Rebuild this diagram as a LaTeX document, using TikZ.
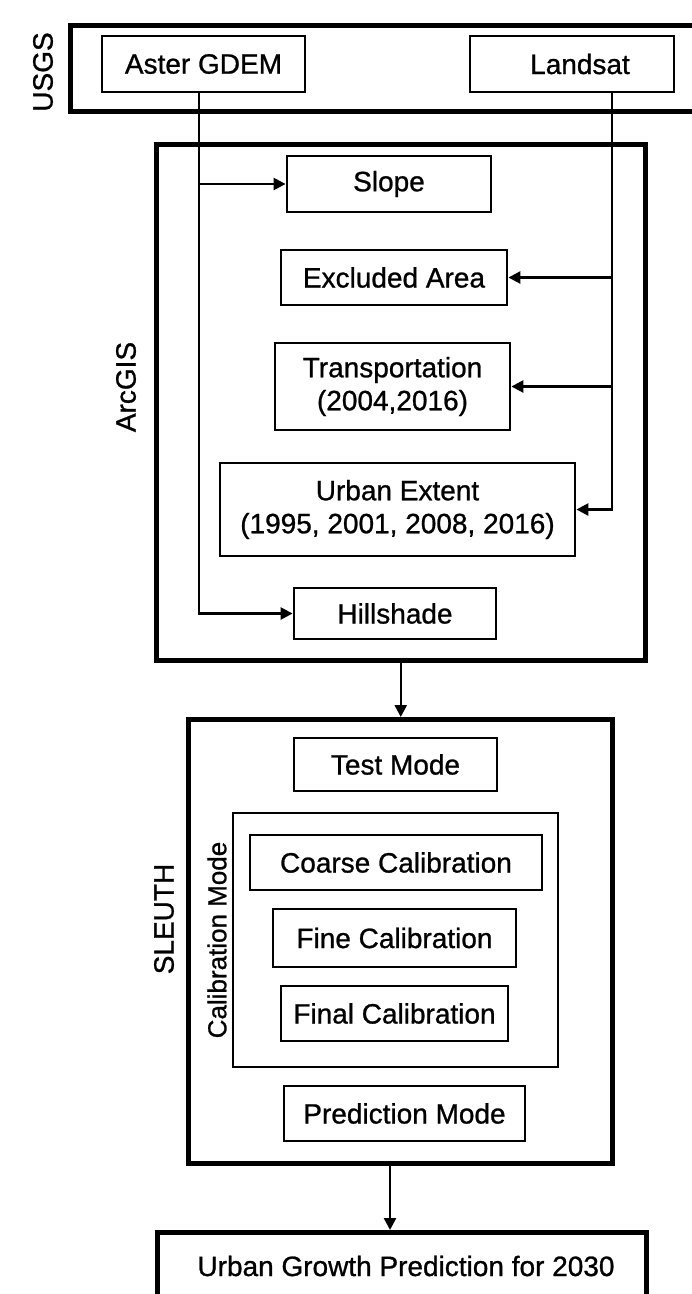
\documentclass[tikz,border=0pt]{standalone}
\usepackage{fontspec}
\setmainfont{Liberation Sans}
\newfontfamily\heavysans[FakeBold=0.9]{Liberation Sans}
\usetikzlibrary{arrows.meta,calc}
\begin{document}
\begin{tikzpicture}[x=1pt,y=-1pt,
  frame/.style={draw,line width=4.5pt,inner sep=0pt,anchor=north west},
  box/.style={draw,line width=2.8pt,inner sep=0pt,align=center,
    font=\heavysans\fontsize{28}{33}\selectfont},
  lbl/.style={rotate=90,inner sep=0pt,font=\heavysans\fontsize{28}{33}\selectfont},
  conn/.style={line width=2.5pt,-{Triangle[length=12pt,width=12pt]}}]
\useasboundingbox (0,0) rectangle (692,1294);
% frames
\node[frame,minimum width=660pt,minimum height=86pt] (usgs) at (68,23) {};
\node[frame,minimum width=489pt,minimum height=516pt] (arcgis) at (154,142) {};
\node[frame,minimum width=424pt,minimum height=444pt] (sleuth) at (186,717) {};
\node[draw,line width=2.2pt,inner sep=0pt,anchor=north west,minimum width=325pt,minimum height=254pt] (calib) at (232,812) {};
\node[frame,minimum width=489pt,minimum height=100pt] (out) at (155,1230) {};
% group labels
\node[lbl] (usgsl) at (43,72) {USGS};
\node[lbl] (arcl) at (126,387) {ArcGIS};
\node[lbl] (sleuthl) at (164,919) {SLEUTH};
\node[lbl,font=\heavysans\fontsize{26}{30}\selectfont] (calibl) at (217,940) {Calibration Mode};
% boxes
\node[box,minimum width=203pt,minimum height=56pt] (aster) at (203.5,64) {Aster GDEM};
\node[box,minimum width=204pt,minimum height=56pt,text width=190pt] (landsat) at (572,64) {\hspace*{16pt}Landsat};
\node[box,minimum width=204pt,minimum height=56pt] (slope) at (389,184) {Slope};
\node[box,minimum width=226pt,minimum height=55pt] (excl) at (394,277.5) {Excluded Area};
\node[box,minimum width=235pt,minimum height=87pt] (trans) at (392.5,386.5) {Transportation\\(2004,2016)};
\node[box,minimum width=355pt,minimum height=93pt] (urban) at (397.5,509.5) {Urban Extent\\(1995, 2001, 2008, 2016)};
\node[box,minimum width=202pt,minimum height=51pt] (hill) at (395,613.5) {Hillshade};
\node[box,minimum width=203pt,minimum height=53pt] (test) at (395.5,764.5) {Test Mode};
\node[box,minimum width=292pt,minimum height=55pt] (coarse) at (396,862.5) {Coarse Calibration};
\node[box,minimum width=243pt,minimum height=58pt] (fine) at (394.5,938) {Fine Calibration};
\node[box,minimum width=227pt,minimum height=55pt] (final) at (394.5,1013.5) {Final Calibration};
\node[box,minimum width=241pt,minimum height=55pt] (pred) at (404.5,1113.5) {Prediction Mode};
\node[inner sep=0pt,font=\heavysans\fontsize{28}{33}\selectfont] (outl) at (406,1266) {Urban Growth Prediction for 2030};
% connector guide coordinates
\coordinate (ax) at (199,0);
\coordinate (lx) at (612,0);
\coordinate (sx) at (390,0);
% connectors
\draw[conn] (aster.south -| ax) |- (hill.west);
\draw[conn] (slope.west -| ax) -- (slope.west);
\draw[conn] (landsat.south -| lx) |- (urban.east);
\draw[conn] (excl.east -| lx) -- (excl.east);
\draw[conn] (trans.east -| lx) -- (trans.east);
\draw[conn] (arcgis.south) -- (arcgis.south |- sleuth.north);
\draw[conn] (sleuth.south -| sx) -- (out.north -| sx);
\end{tikzpicture}
\end{document}
